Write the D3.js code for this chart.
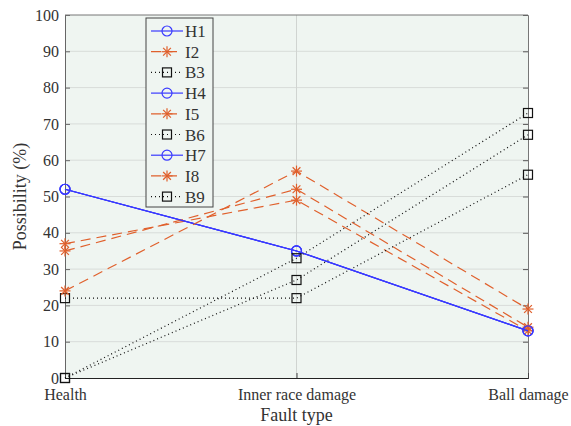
<!DOCTYPE html>
<html>
<head>
<meta charset="utf-8">
<script src="https://cdn.jsdelivr.net/npm/d3@7"></script>
<style>
  body { margin: 0; background: #fff; }
  svg text { font-family: "Liberation Serif", "Times New Roman", Times, Tinos, "DejaVu Serif", "Noto Serif", serif !important; fill: #333; }
</style>
</head>
<body>
<div id="chart"></div>
<script>
var categories = ["Health", "Inner race damage", "Ball damage"];
var seriesNames = ["H1", "I2", "B3", "H4", "I5", "B6", "H7", "I8", "B9"];
var H1 = [52, 35, 13];
var I2 = [37, 49, 13];
var B3 = [22, 22, 56];
var H4 = [52, 35, 13];
var I5 = [35, 52, 14];
var B6 = [0, 27, 67];
var H7 = [52, 35, 13];
var I8 = [24, 57, 19];
var B9 = [0, 33, 73];
var yTicks = [0, 10, 20, 30, 40, 50, 60, 70, 80, 90, 100];

var seriesValues = [H1, I2, B3, H4, I5, B6, H7, I8, B9];

// style by first letter of series name
var styles = {
    H: { color: "#3a3aff", dash: null, marker: "circle" },
    I: { color: "#e0602c", dash: "10,6", marker: "star" },
    B: { color: "#111", dash: "1,3", marker: "square" }
};

function drawChart() {
    var width = 571, height = 426;
    var margin = { top: 15, right: 43, bottom: 48, left: 65 };
    var w = width - margin.left - margin.right;
    var h = height - margin.top - margin.bottom;

    var svg = d3.select("#chart").append("svg")
        .attr("width", width)
        .attr("height", height);

    var g = svg.append("g")
        .attr("transform", "translate(" + margin.left + "," + margin.top + ")");

    var x = d3.scalePoint().domain(categories).range([0, w]);
    var y = d3.scaleLinear().domain([0, 100]).range([h, 0]);

    g.append("rect")
        .attr("width", w).attr("height", h)
        .attr("fill", "#eff5f1");

    // grid
    g.selectAll(".hgrid").data(yTicks.slice(1, -1)).enter()
        .append("line")
        .attr("x1", 0).attr("x2", w)
        .attr("y1", function (d) { return y(d); })
        .attr("y2", function (d) { return y(d); })
        .attr("stroke", "#d8dcd9").attr("stroke-width", 1);
    g.append("line")
        .attr("x1", x(categories[1])).attr("x2", x(categories[1]))
        .attr("y1", 0).attr("y2", h)
        .attr("stroke", "#d0d4d1").attr("stroke-width", 1);

    // axes
    var yAxis = g.append("g")
        .call(d3.axisLeft(y).tickValues(yTicks).tickSize(-5).tickPadding(6));
    yAxis.attr("font-family", null);
    yAxis.select(".domain").attr("stroke", "#666");
    yAxis.selectAll(".tick line").attr("stroke", "#666");
    yAxis.selectAll("text").style("font-size", "16px").attr("fill", "#333");

    var yRight = g.append("g")
        .attr("transform", "translate(" + w + ",0)")
        .call(d3.axisRight(y).tickValues(yTicks).tickSize(-5).tickFormat(""));
    yRight.select(".domain").attr("stroke", "#777");
    yRight.selectAll(".tick line").attr("stroke", "#555");

    g.append("line").attr("x1", 0).attr("x2", w).attr("y1", 0).attr("y2", 0)
        .attr("stroke", "#777");

    var xAxis = g.append("g")
        .attr("transform", "translate(0," + h + ")")
        .call(d3.axisBottom(x).tickSize(-5).tickPadding(11));
    xAxis.attr("font-family", null);
    xAxis.select(".domain").attr("stroke", "#222");
    xAxis.selectAll(".tick line").attr("stroke", "#444");
    xAxis.selectAll("text").style("font-size", "16px").attr("fill", "#333");

    svg.append("text")
        .attr("x", margin.left + x(categories[1]))
        .attr("y", 421)
        .attr("text-anchor", "middle")
        .style("font-size", "18px")
        .text("Fault type");

    svg.append("text")
        .attr("transform", "translate(26," + (margin.top + h / 2) + ") rotate(-90)")
        .attr("text-anchor", "middle")
        .style("font-size", "18px")
        .text("Possibility (%)");

    var line = d3.line()
        .x(function (d, i) { return x(categories[i]); })
        .y(function (d) { return y(d); });

    function drawMarker(sel, type, color, px, py) {
        if (type === "circle") {
            sel.append("circle").attr("cx", px).attr("cy", py).attr("r", 5)
                .attr("fill", "none").attr("stroke", color).attr("stroke-width", 1.2);
        } else if (type === "square") {
            sel.append("rect").attr("x", px - 4.5).attr("y", py - 4.5)
                .attr("width", 9).attr("height", 9)
                .attr("fill", "none").attr("stroke", color).attr("stroke-width", 1.2);
        } else {
            var r = 5.5;
            [0, 45, 90, 135].forEach(function (a) {
                var rad = a * Math.PI / 180;
                sel.append("line")
                    .attr("x1", px - r * Math.cos(rad)).attr("y1", py - r * Math.sin(rad))
                    .attr("x2", px + r * Math.cos(rad)).attr("y2", py + r * Math.sin(rad))
                    .attr("stroke", color).attr("stroke-width", 1.2);
            });
        }
    }

    seriesNames.forEach(function (name, k) {
        var st = styles[name[0]];
        var vals = seriesValues[k];
        g.append("path")
            .attr("d", line(vals))
            .attr("fill", "none")
            .attr("stroke", st.color)
            .attr("stroke-width", 1.2)
            .attr("stroke-dasharray", st.dash);
        vals.forEach(function (v, i) {
            drawMarker(g, st.marker, st.color, x(categories[i]), y(v));
        });
    });

    // legend
    var lg = svg.append("g").attr("transform", "translate(146,18)");
    lg.append("rect").attr("width", 67).attr("height", 189)
        .attr("fill", "#eff5f1").attr("stroke", "#444").attr("stroke-width", 1);
    seriesNames.forEach(function (name, k) {
        var st = styles[name[0]];
        var cy = 13 + k * 20.7;
        lg.append("line")
            .attr("x1", 5).attr("x2", 37).attr("y1", cy).attr("y2", cy)
            .attr("stroke", st.color).attr("stroke-width", 1.2)
            .attr("stroke-dasharray", st.dash);
        drawMarker(lg, st.marker, st.color, 21, cy);
        lg.append("text")
            .attr("x", 39).attr("y", cy + 6)
            .style("font-size", "17px")
            .attr("fill", "#222")
            .text(name);
    });
}

window.addEventListener("load", function () {
    drawChart();
});
</script>
</body>
</html>
